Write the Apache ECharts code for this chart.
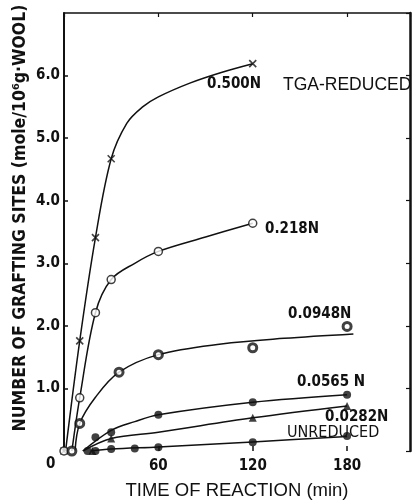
<!DOCTYPE html>
<html><head><meta charset="utf-8">
<script src="https://cdn.jsdelivr.net/npm/echarts@6/dist/echarts.min.js"></script>
<style>html,body{margin:0;padding:0;background:#fff}#c{width:412px;height:501px}</style>
</head><body><div id="c"></div>
<script>
// ---- data ----
const xTicks = [0, 60, 120, 180];
const yTicks = [1, 2, 3, 4, 5, 6];

const n0500_t = [0, 10, 20, 30, 120];
const n0500_v = [0, 1.76, 3.41, 4.67, 6.19];
const n0500_curve_t = [1, 10, 20, 30, 40, 50, 60, 80, 100, 120];
const n0500_curve_v = [0, 1.76, 3.41, 4.67, 5.24, 5.5, 5.66, 5.88, 6.05, 6.19];

const n0218_t = [0, 10, 20, 30, 60, 120];
const n0218_v = [0, 0.85, 2.21, 2.74, 3.19, 3.64];
const n0218_curve_t = [5, 10, 20, 30, 45, 60, 90, 120];
const n0218_curve_v = [0, 0.85, 2.21, 2.74, 3.0, 3.19, 3.42, 3.64];

const n0948_t = [5, 10, 35, 60, 120, 180];
const n0948_v = [0, 0.44, 1.26, 1.54, 1.65, 1.99];
const n0948_curve_t = [7, 10, 20, 35, 60, 100, 140, 184];
const n0948_curve_v = [0, 0.44, 0.86, 1.26, 1.54, 1.71, 1.80, 1.87];

const n0565_t = [15, 20, 30, 60, 120, 180];
const n0565_v = [0, 0.22, 0.30, 0.58, 0.78, 0.90];
const n0565_curve_t = [12, 30, 45, 60, 120, 180];
const n0565_curve_v = [0, 0.33, 0.47, 0.58, 0.78, 0.90];

const n0282_t = [18, 30, 120, 180];
const n0282_v = [0, 0.20, 0.53, 0.72];
const n0282_curve_t = [12, 30, 60, 120, 180];
const n0282_curve_v = [0, 0.20, 0.30, 0.53, 0.72];

const unred_t = [20, 30, 45, 60, 120, 180];
const unred_v = [0, 0.03, 0.04, 0.06, 0.14, 0.24];
const unred_curve_t = [17, 30, 60, 120, 180];
const unred_curve_v = [0, 0.03, 0.065, 0.145, 0.23];

const seriesLabels = ['0.500N', 'TGA-REDUCED', '0.218N', '0.0948N', '0.0565 N', '0.0282N', 'UNREDUCED'];

// ---- build ----
const zip = (t, v) => t.map((x, i) => [x, v[i]]);
const FONT = '"Liberation Sans Narrow","DejaVu Sans Condensed","Liberation Sans",sans-serif';
const WIDE = '"Liberation Sans",Arial,sans-serif';
const ink = '#111';

function curve(t, v) {
  return { type: 'line', data: zip(t, v), smooth: 0.35, showSymbol: false, symbol: 'none',
    lineStyle: { color: ink, width: 1.5 }, silent: true, z: 2 };
}
function marks(t, v, symbol, size, style) {
  return { type: 'scatter', data: zip(t, v), symbol: symbol, symbolSize: size,
    itemStyle: style, silent: true, z: 3 };
}
const crossPath = 'path://M0,0L10,10M10,0L0,10';

const chart = echarts.init(document.getElementById('c'), null, { renderer: 'canvas' });
const axisCommonX = { type: 'value', min: 0, max: 220, interval: 60, splitLine: { show: false } };
const axisCommonY = { type: 'value', min: 0, max: 7, interval: 1, splitLine: { show: false } };

chart.setOption({
  animation: false,
  backgroundColor: '#fff',
  grid: { left: 64, right: 2, top: 13, bottom: 50, containLabel: false, outerBoundsMode: 'none' },
  xAxis: [
    Object.assign({}, axisCommonX, {
      position: 'bottom',
      axisLine: { show: false, onZero: false },
      axisTick: { show: true, inside: true, length: 5, lineStyle: { color: ink, width: 1.5 } },
      axisLabel: { show: true, showMaxLabel: false, margin: 8, color: ink,
        fontFamily: FONT, fontWeight: 'bold', fontSize: 15,
        formatter: v => (xTicks.indexOf(v) > 0 ? String(v) : '') },
      name: 'TIME OF REACTION (min)', nameLocation: 'middle', nameGap: 30,
      nameTextStyle: { color: ink, fontFamily: WIDE, fontSize: 18.5 }
    }),
    Object.assign({}, axisCommonX, {
      position: 'top',
      axisLine: { show: true, onZero: false, lineStyle: { color: ink, width: 1.5 } },
      axisTick: { show: true, inside: true, length: 4, lineStyle: { color: ink, width: 1.2 } },
      axisLabel: { show: false }
    })
  ],
  yAxis: [
    Object.assign({}, axisCommonY, {
      position: 'left',
      axisLine: { show: true, onZero: false, lineStyle: { color: ink, width: 2 } },
      axisTick: { show: true, inside: true, length: 4, lineStyle: { color: ink, width: 1.5 } },
      axisLabel: { show: true, showMaxLabel: false, showMinLabel: false, margin: 4, color: ink,
        fontFamily: FONT, fontWeight: 'bold', fontSize: 15,
        formatter: v => (yTicks.indexOf(v) >= 0 ? v.toFixed(1) : '') }
    }),
    Object.assign({}, axisCommonY, {
      position: 'right',
      axisLine: { show: true, onZero: false, lineStyle: { color: ink, width: 2.5 } },
      axisTick: { show: true, inside: true, length: 4, lineStyle: { color: ink, width: 1.2 } },
      axisLabel: { show: false }
    })
  ],
  series: [
    curve(n0500_curve_t, n0500_curve_v),
    curve(n0218_curve_t, n0218_curve_v),
    curve(n0948_curve_t, n0948_curve_v),
    curve(n0565_curve_t, n0565_curve_v),
    curve(n0282_curve_t, n0282_curve_v),
    curve(unred_curve_t, unred_curve_v),
    marks(n0500_t, n0500_v, crossPath, 7, { color: 'none', borderColor: ink, borderWidth: 1.6 }),
    marks(n0218_t, n0218_v, 'circle', 8, { color: '#fff', borderColor: ink, borderWidth: 1.5 }),
    marks(n0948_t, n0948_v, 'circle', 8, { color: '#fff', borderColor: ink, borderWidth: 3 }),
    marks(n0565_t, n0565_v, 'circle', 8, { color: ink }),
    marks(n0282_t, n0282_v, 'triangle', 8, { color: ink }),
    marks(unred_t, unred_v, 'circle', 8, { color: ink })
  ],
  graphic: [
    { type: 'text', left: 207, top: 77, style: { text: seriesLabels[0], font: 'bold 15px ' + FONT, fill: ink } },
    { type: 'text', left: 283, top: 76, style: { text: seriesLabels[1], font: '17.5px ' + WIDE, fill: ink } },
    { type: 'text', left: 265, top: 222, style: { text: seriesLabels[2], font: 'bold 15px ' + FONT, fill: ink } },
    { type: 'text', left: 288, top: 307, style: { text: seriesLabels[3], font: 'bold 15px ' + FONT, fill: ink } },
    { type: 'text', left: 297, top: 375, style: { text: seriesLabels[4], font: 'bold 15px ' + FONT, fill: ink } },
    { type: 'text', left: 325, top: 410, style: { text: seriesLabels[5], font: 'bold 15px ' + FONT, fill: ink } },
    { type: 'text', left: 287, top: 425, style: { text: seriesLabels[6], font: '16px ' + FONT, fill: ink } },
    { type: 'text', left: 46, top: 457, style: { text: '0', font: 'bold 15px ' + FONT, fill: ink } },
    { type: 'text', x: 20, y: 218, rotation: Math.PI / 2,
      style: { text: 'NUMBER OF GRAFTING SITES (mole/10⁶g·WOOL)', font: 'bold 17.5px ' + FONT, fill: ink,
        align: 'center', verticalAlign: 'middle' } }
  ]
});
</script></body></html>
